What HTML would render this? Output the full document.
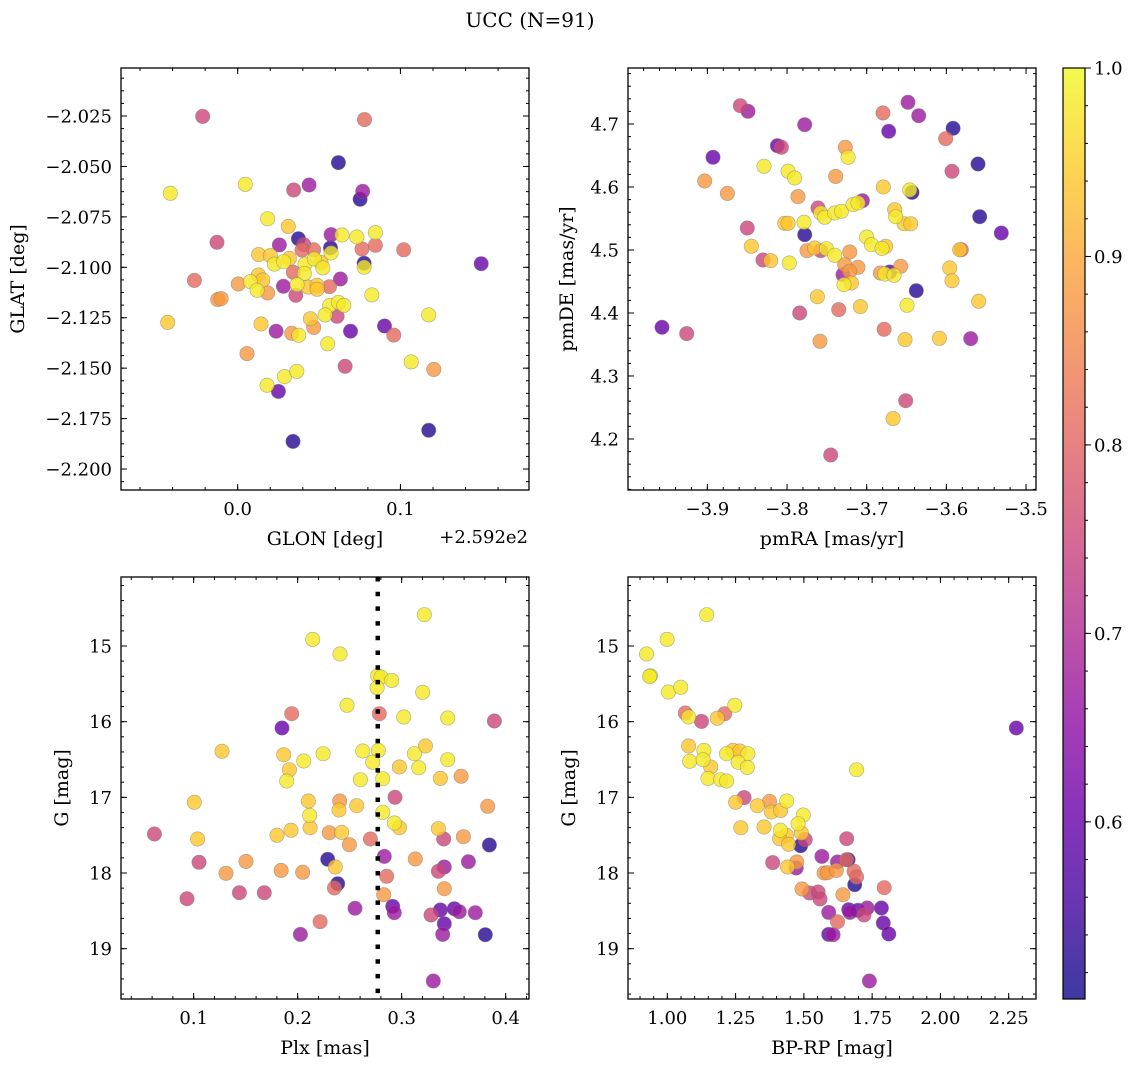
<!DOCTYPE html>
<html><head><meta charset="utf-8"><title>UCC (N=91)</title>
<style>
html,body{margin:0;padding:0;background:#fff;}
svg{display:block;font-family:"DejaVu Serif","Liberation Serif",serif;}
</style></head>
<body>
<svg id="fig" width="1136" height="1067" viewBox="0 0 1136 1067" xmlns="http://www.w3.org/2000/svg">
<defs>
<linearGradient id="plasma" x1="0" y1="1" x2="0" y2="0">
<stop offset="0" stop-color="#0d0887"/><stop offset="0.1" stop-color="#41049d"/><stop offset="0.2" stop-color="#6a00a8"/><stop offset="0.3" stop-color="#8f0da4"/><stop offset="0.4" stop-color="#b12a90"/><stop offset="0.5" stop-color="#cc4778"/><stop offset="0.6" stop-color="#e16462"/><stop offset="0.7" stop-color="#f2844b"/><stop offset="0.8" stop-color="#fca636"/><stop offset="0.9" stop-color="#fcce25"/><stop offset="1" stop-color="#f0f921"/>
</linearGradient>
</defs>
<text x="530" y="27" font-size="20" text-anchor="middle">UCC (N=91)</text>
</svg>
<script>
// ---- Panel 1: GLON / GLAT ----
const p1Glon=[-0.0215,0.0779,0.0619,0.0047,-0.0414,0.0344,0.0439,0.0768,0.0752,0.0184,0.0311,0.0373,0.0256,-0.0127,0.0574,0.0641,0.0732,0.0846,0.0406,0.0395,0.0467,0.0570,0.0574,0.0764,0.0846,0.1020,0.1496,0.0129,0.0201,0.0225,0.0283,0.0318,0.0414,0.0471,0.0523,0.0512,0.0777,0.0777,0.0342,0.0410,-0.0266,0.0127,0.0004,0.0078,0.0154,0.0119,0.0184,0.0281,0.0357,0.0365,0.0434,0.0488,0.0488,0.0564,0.0631,-0.0123,-0.0102,-0.0430,0.0824,0.0566,0.0619,0.0652,0.0537,0.0611,0.0447,0.0467,0.0143,0.0236,0.0332,0.0375,0.0693,0.0902,0.0959,0.1174,0.0553,0.0057,0.0660,0.1066,0.1205,0.0287,0.0363,0.0180,0.0250,0.0340,0.1174];
const p1Glat=[-2.0252,-2.0268,-2.0481,-2.0589,-2.0633,-2.0617,-2.0592,-2.0623,-2.0663,-2.0759,-2.0797,-2.0858,-2.0889,-2.0876,-2.0838,-2.0840,-2.0850,-2.0828,-2.0888,-2.0914,-2.0913,-2.0904,-2.0929,-2.0909,-2.0891,-2.0913,-2.0982,-2.0937,-2.0942,-2.0984,-2.0972,-2.0956,-2.0984,-2.0959,-2.1003,-2.0975,-2.0980,-2.1000,-2.1025,-2.1030,-2.1065,-2.1038,-2.1083,-2.1071,-2.1063,-2.1114,-2.1127,-2.1094,-2.1139,-2.1086,-2.1098,-2.1089,-2.1109,-2.1096,-2.1058,-2.1160,-2.1155,-2.1273,-2.1137,-2.1189,-2.1174,-2.1189,-2.1236,-2.1243,-2.1255,-2.1298,-2.1281,-2.1317,-2.1327,-2.1337,-2.1317,-2.1291,-2.1336,-2.1236,-2.1379,-2.1428,-2.1491,-2.1469,-2.1506,-2.1542,-2.1516,-2.1585,-2.1615,-2.1863,-2.1808];
const p1Prob=[.75,.81,.53,.98,.98,.75,.67,.67,.53,.98,.94,.53,.67,.75,.67,.98,.98,.98,.75,.81,.81,.53,.98,.81,.81,.81,.6,.94,.94,.98,.98,.94,.98,.98,.98,.94,.53,.98,.81,.98,.81,.94,.88,.98,.94,.98,.88,.67,.75,.98,.94,.94,.94,.81,.67,.88,.88,.94,.98,.98,.98,.98,.98,.75,.94,.88,.94,.67,.88,.98,.6,.6,.81,.98,.98,.88,.75,.98,.88,.98,.98,.98,.6,.53,.53];
const p1XTickVals=[0.0,0.1];
const p1XTickLabels=["0.0","0.1"];
const p1YTickVals=[-2.025,-2.05,-2.075,-2.1,-2.125,-2.15,-2.175,-2.2];
const p1YTickLabels=["\u22122.025","\u22122.050","\u22122.075","\u22122.100","\u22122.125","\u22122.150","\u22122.175","\u22122.200"];
// ---- Panel 2: pmRA / pmDE ----
const p2PmRA=[-3.8586,-3.849,-3.7778,-3.6481,-3.6347,-3.6795,-3.6724,-3.5916,-3.6008,-3.8121,-3.8071,-3.8929,-3.7268,-3.7234,-3.8289,-3.7987,-3.7904,-3.9033,-3.8749,-3.7389,-3.5603,-3.5929,-3.7862,-3.6791,-3.6431,-3.6460,-3.7611,-3.7577,-3.7527,-3.7402,-3.7318,-3.7172,-3.7054,-3.7109,-3.6649,-3.6636,-3.5582,-3.5310,-3.8498,-3.8029,-3.7987,-3.7787,-3.7778,-3.6531,-3.6448,-3.7000,-3.6941,-3.6762,-3.6808,-3.8448,-3.8301,-3.8205,-3.7971,-3.7749,-3.7653,-3.7577,-3.7506,-3.7402,-3.7213,-3.7276,-3.7109,-3.7297,-3.7213,-3.7285,-3.7192,-3.5812,-3.5833,-3.5958,-3.5929,-3.6573,-3.6828,-3.6711,-3.6774,-3.6657,-3.6377,-3.7619,-3.7841,-3.7351,-3.7079,-3.6494,-3.5594,-3.9569,-3.9259,-3.7586,-3.6782,-3.6519,-3.6088,-3.5695,-3.6510,-3.6669,-3.7452];
const p2PmDE=[4.7291,4.7201,4.6989,4.7344,4.7132,4.7175,4.6884,4.6931,4.6767,4.6656,4.6630,4.6471,4.6630,4.6471,4.6328,4.6249,4.6143,4.6095,4.5899,4.6169,4.6365,4.6249,4.5847,4.6000,4.5915,4.5952,4.5667,4.5587,4.5519,4.5587,4.5614,4.5720,4.5783,4.5746,4.5640,4.5529,4.5529,4.5270,4.5349,4.5423,4.5423,4.5439,4.5243,4.5418,4.5418,4.5206,4.5085,4.5058,4.5026,4.5058,4.4841,4.4831,4.4794,4.4989,4.5032,4.4989,4.5021,4.4915,4.4968,4.4767,4.4725,4.4608,4.4661,4.4450,4.4476,4.5005,4.5005,4.4714,4.4513,4.4741,4.4635,4.4651,4.4619,4.4598,4.4354,4.4259,4.4000,4.4053,4.4101,4.4122,4.4185,4.3772,4.3672,4.3550,4.3741,4.3577,4.3598,4.3593,4.2608,4.2323,4.1746];
const p2Prob=[.75,.67,.67,.67,.67,.81,.6,.53,.81,.6,.75,.6,.88,.98,.98,.98,.98,.88,.88,.88,.53,.75,.88,.94,.53,.98,.75,.98,.98,.98,.98,.98,.67,.98,.94,.98,.53,.6,.75,.94,.94,.98,.53,.94,.94,.98,.98,.94,.98,.94,.75,.94,.98,.88,.94,.75,.98,.98,.88,.88,.88,.67,.88,.98,.94,.81,.94,.94,.94,.88,.88,.6,.98,.98,.53,.94,.75,.81,.94,.98,.94,.6,.75,.88,.81,.94,.94,.67,.75,.94,.75];
const p2XTickVals=[-3.9,-3.8,-3.7,-3.6,-3.5];
const p2XTickLabels=["\u22123.9","\u22123.8","\u22123.7","\u22123.6","\u22123.5"];
const p2YTickVals=[4.2,4.3,4.4,4.5,4.6,4.7];
const p2YTickLabels=["4.2","4.3","4.4","4.5","4.6","4.7"];
// ---- Panel 3: Plx / G ----
const p3Plx=[.3218,.2144,.2407,.2769,.2801,.2904,.2763,.3202,.2474,.1942,.2785,.3019,.3442,.3891,.1849,.1272,.1865,.2058,.2244,.2625,.2776,.2721,.3122,.3228,.3442,.1920,.1894,.2603,.2817,.2978,.3163,.3372,.3571,.1006,.2103,.2404,.2397,.2567,.2936,.2817,.3827,.2115,.0622,.1038,.1801,.1936,.2119,.2304,.2423,.2497,.2699,.2929,.2978,.3353,.3404,.3593,.3843,.1051,.1503,.1311,.1840,.2048,.2288,.2362,.2833,.3131,.3410,.3353,.3641,.0936,.1439,.1679,.2385,.2353,.2856,.2827,.3410,.2551,.2913,.2929,.3282,.3372,.3506,.3554,.3708,.2215,.2026,.3410,.3394,.3804,.3304];
const p3G=[14.586,14.912,15.106,15.392,15.410,15.454,15.551,15.612,15.784,15.894,15.894,15.938,15.952,15.991,16.084,16.392,16.436,16.520,16.423,16.388,16.379,16.537,16.423,16.322,16.502,16.634,16.784,16.767,16.753,16.599,16.608,16.749,16.722,17.066,17.048,17.048,17.167,17.110,17.000,17.198,17.119,17.238,17.485,17.551,17.502,17.436,17.401,17.467,17.463,17.626,17.551,17.339,17.401,17.414,17.551,17.520,17.630,17.859,17.846,18.004,17.965,17.991,17.819,17.921,17.780,17.815,17.921,17.978,17.850,18.339,18.260,18.260,18.141,18.198,18.044,18.286,18.207,18.467,18.441,18.524,18.555,18.489,18.471,18.511,18.524,18.643,18.811,18.670,18.811,18.815,19.427];
const p3Prob=[.98,.98,.98,.98,.98,.98,.98,.98,.98,.81,.81,.98,.98,.75,.6,.94,.94,.98,.98,.98,.98,.98,.98,.94,.98,.94,.98,.98,.98,.94,.98,.94,.88,.94,.94,.88,.94,.94,.75,.98,.88,.98,.75,.94,.94,.94,.94,.88,.94,.88,.81,.98,.94,.94,.75,.88,.53,.75,.88,.88,.88,.88,.53,.94,.67,.88,.67,.75,.67,.75,.75,.75,.53,.81,.81,.88,.88,.67,.6,.67,.75,.6,.6,.67,.67,.81,.67,.6,.67,.53,.67];
const plxMean=0.277;
const p3XTickVals=[0.1,0.2,0.3,0.4];
const p3XTickLabels=["0.1","0.2","0.3","0.4"];
const gTickVals=[15,16,17,18,19];
const gTickLabels=["15","16","17","18","19"];
// ---- Panel 4: BP-RP / G ----
const p4BPRP=[1.144,.999,.924,.938,.935,1.004,1.049,1.066,1.078,1.125,1.183,1.210,1.247,1.078,1.082,1.134,1.131,1.159,1.149,1.195,1.217,1.217,1.240,1.265,1.295,1.259,1.293,1.693,2.278,1.281,1.250,1.330,1.374,1.381,1.415,1.437,1.498,1.479,1.269,1.354,1.414,1.436,1.411,1.444,1.491,1.505,1.488,1.657,1.566,1.623,1.662,1.656,1.386,1.440,1.472,1.474,1.574,1.586,1.619,1.684,1.693,1.686,1.794,1.493,1.521,1.552,1.559,1.643,1.591,1.623,1.664,1.669,1.698,1.732,1.720,1.784,1.791,1.811,1.591,1.607,1.740];
const p4G=[14.586,14.912,15.106,15.392,15.401,15.608,15.546,15.885,15.938,15.996,15.956,15.894,15.784,16.322,16.524,16.379,16.502,16.599,16.749,16.767,16.784,16.423,16.379,16.388,16.423,16.537,16.604,16.634,16.084,17.004,17.066,17.110,17.053,17.194,17.172,17.048,17.233,17.348,17.401,17.392,17.436,17.502,17.546,17.621,17.471,17.559,17.639,17.546,17.780,17.855,17.824,17.824,17.863,17.921,17.934,17.855,18.000,17.996,17.965,17.978,18.053,18.154,18.194,18.211,18.264,18.251,18.344,18.286,18.520,18.643,18.485,18.520,18.493,18.463,18.555,18.463,18.661,18.806,18.811,18.815,19.427];
const p4Prob=[.98,.98,.98,.98,.98,.98,.98,.81,.98,.75,.94,.81,.98,.94,.98,.98,.98,.94,.98,.98,.98,.98,.94,.94,.98,.98,.98,.98,.6,.75,.94,.94,.88,.94,.94,.98,.98,.98,.94,.94,.98,.94,.94,.94,.94,.75,.53,.75,.67,.67,.53,.81,.75,.94,.67,.88,.88,.88,.88,.81,.81,.53,.81,.88,.75,.75,.75,.88,.67,.81,.6,.67,.6,.67,.75,.6,.6,.6,.6,.67,.67];
const p4XTickVals=[1.0,1.25,1.5,1.75,2.0,2.25];
const p4XTickLabels=["1.00","1.25","1.50","1.75","2.00","2.25"];
// ---- Colorbar ----
const cbTickVals=[0.6,0.7,0.8,0.9,1.0];
const cbTickLabels=["0.6","0.7","0.8","0.9","1.0"];
const cbMin=0.506, cbMax=1.0;

const NS="http://www.w3.org/2000/svg";
const svg=document.getElementById('fig');
function mk(tag,attrs,parent){const e=document.createElementNS(NS,tag);for(const k in attrs)e.setAttribute(k,attrs[k]);(parent||svg).appendChild(e);return e;}
const stops=[[13,8,135],[65,4,157],[106,0,168],[143,13,164],[177,42,144],[204,71,120],[225,100,98],[242,132,75],[252,166,54],[252,206,37],[240,249,33]];
function plasma(v){let t=(v-cbMin)/(cbMax-cbMin);t=Math.max(0,Math.min(1,t))*10;const i=Math.min(9,Math.floor(t)),f=t-i;const a=stops[i],b=stops[i+1];return 'rgb('+a.map((c,k)=>Math.round(c+(b[k]-c)*f)).join(',')+')';}
function minorTicks(lo,hi,step){const r=[];const s=Math.ceil(lo/step-1e-6);for(let k=s;k*step<=hi+1e-9;k++)r.push(k*step);return r;}
const TF=18, AF=19;

function panel(cfg){
  const {name,L,T,W,H,xr,yr,xv,yv,cv,xt,xtl,yt,ytl,xminor,yminor,xlabel,ylabel,ylabelX}=cfg;
  const g=mk('g',{});
  
  
  const sx=v=>L+(v-xr[0])/(xr[1]-xr[0])*W;
  const sy=v=>T+(yr[1]-v)/(yr[1]-yr[0])*H;
  const clip='clip-'+name;
  const cp=mk('clipPath',{id:clip},g);mk('rect',{x:L,y:T,width:W,height:H},cp);
  const pts=mk('g',{'clip-path':'url(#'+clip+')'},g);
  
  
  const idx=xv.map((_,i)=>i).sort((a,b)=>cv[a]-cv[b]);
  idx.forEach(i=>{
    const c=mk('circle',{cx:sx(xv[i]).toFixed(1),cy:sy(yv[i]).toFixed(1),r:7.2,fill:plasma(cv[i]),'fill-opacity':0.8,stroke:'#777','stroke-opacity':0.6,'stroke-width':0.6},pts);
    
    
  });
  if(cfg.vline!==undefined){
    const ln=mk('line',{x1:sx(cfg.vline),x2:sx(cfg.vline),y1:T,y2:T+H,stroke:'#000','stroke-width':4.5,'stroke-dasharray':'4.5 10.2'},g);
    
    
  }
  const ax=mk('g',{stroke:'#000','stroke-width':1},g);
  
  
  minorTicks(xr[0],xr[1],xminor).forEach(v=>{const x=sx(v);mk('line',{x1:x,x2:x,y1:T+H,y2:T+H-3},ax);mk('line',{x1:x,x2:x,y1:T,y2:T+3},ax);});
  minorTicks(yr[0],yr[1],yminor).forEach(v=>{const y=sy(v);mk('line',{x1:L,x2:L+3,y1:y,y2:y},ax);mk('line',{x1:L+W,x2:L+W-3,y1:y,y2:y},ax);});
  xt.forEach((v,i)=>{const x=sx(v);mk('line',{x1:x,x2:x,y1:T+H,y2:T+H-6},ax);mk('line',{x1:x,x2:x,y1:T,y2:T+6},ax);
    const t=mk('text',{x:x,y:T+H+25,'font-size':TF,'text-anchor':'middle',stroke:'none'},g);t.textContent=xtl[i];
    
    });
  yt.forEach((v,i)=>{const y=sy(v);mk('line',{x1:L,x2:L+6,y1:y,y2:y},ax);mk('line',{x1:L+W,x2:L+W-6,y1:y,y2:y},ax);
    const t=mk('text',{x:L-9,y:y+6.5,'font-size':TF,'text-anchor':'end',stroke:'none'},g);t.textContent=ytl[i];
    
    });
  mk('rect',{x:L,y:T,width:W,height:H,fill:'none',stroke:'#000','stroke-width':1.3},g);
  const xl=mk('text',{x:L+W/2,y:T+H+55,'font-size':AF,'text-anchor':'middle'},g);xl.textContent=xlabel;
  
  
  const yc=T+H/2;
  const yl=mk('text',{x:ylabelX,y:yc,'font-size':AF,'text-anchor':'middle',transform:'rotate(-90 '+ylabelX+' '+yc+')'},g);yl.textContent=ylabel;
  
  
  return g;
}

panel({name:'glon-glat-panel',L:121,T:68,W:408,H:422,xr:[-0.0717,0.179],yr:[-2.2104,-2.0012],xv:p1Glon,yv:p1Glat,cv:p1Prob,
  xt:p1XTickVals,xtl:p1XTickLabels,yt:p1YTickVals,ytl:p1YTickLabels,xminor:0.02,yminor:0.00625,xlabel:'GLON [deg]',ylabel:'GLAT [deg]',ylabelX:24});
const off=mk('text',{x:528,y:543,'font-size':TF,'text-anchor':'end'});off.textContent='+2.592e2';


panel({name:'pm-panel',L:628,T:68,W:408,H:422,xr:[-3.9996,-3.4875],yr:[4.119,4.7889],xv:p2PmRA,yv:p2PmDE,cv:p2Prob,
  xt:p2XTickVals,xtl:p2XTickLabels,yt:p2YTickVals,ytl:p2YTickLabels,xminor:0.02,yminor:0.02,xlabel:'pmRA [mas/yr]',ylabel:'pmDE [mas/yr]',ylabelX:573});
panel({name:'plx-g-panel',L:121,T:577,W:408,H:422,xr:[0.0301,0.4224],yr:[-19.665,-14.088],xv:p3Plx,yv:p3G.map(v=>-v),cv:p3Prob,
  xt:p3XTickVals,xtl:p3XTickLabels,yt:gTickVals.map(v=>-v),ytl:gTickLabels,xminor:0.02,yminor:0.2,xlabel:'Plx [mas]',ylabel:'G [mag]',ylabelX:68,vline:plxMean});
panel({name:'cmd-panel',L:628,T:577,W:408,H:422,xr:[0.856,2.350],yr:[-19.665,-14.088],xv:p4BPRP,yv:p4G.map(v=>-v),cv:p4Prob,
  xt:p4XTickVals,xtl:p4XTickLabels,yt:gTickVals.map(v=>-v),ytl:gTickLabels,xminor:0.05,yminor:0.2,xlabel:'BP-RP [mag]',ylabel:'G [mag]',ylabelX:575});

// colorbar
const cb=mk('g',{});


const cbL=1063,cbT=68,cbW=22,cbH=931;
mk('rect',{x:cbL,y:cbT,width:cbW,height:cbH,fill:'url(#plasma)','fill-opacity':0.8},cb);
mk('rect',{x:cbL,y:cbT,width:cbW,height:cbH,fill:'none',stroke:'#000','stroke-width':1.2},cb);
const cy=v=>cbT+(cbMax-v)/(cbMax-cbMin)*cbH;
minorTicks(cbMin,cbMax,0.02).forEach(v=>mk('line',{x1:cbL+cbW,x2:cbL+cbW+3,y1:cy(v),y2:cy(v),stroke:'#000'},cb));
cbTickVals.forEach((v,i)=>{mk('line',{x1:cbL+cbW,x2:cbL+cbW+6,y1:cy(v),y2:cy(v),stroke:'#000'},cb);
  const t=mk('text',{x:1094,y:cy(v)+6.5,'font-size':TF},cb);t.textContent=cbTickLabels[i];
  
  });
</script>
</body></html>
